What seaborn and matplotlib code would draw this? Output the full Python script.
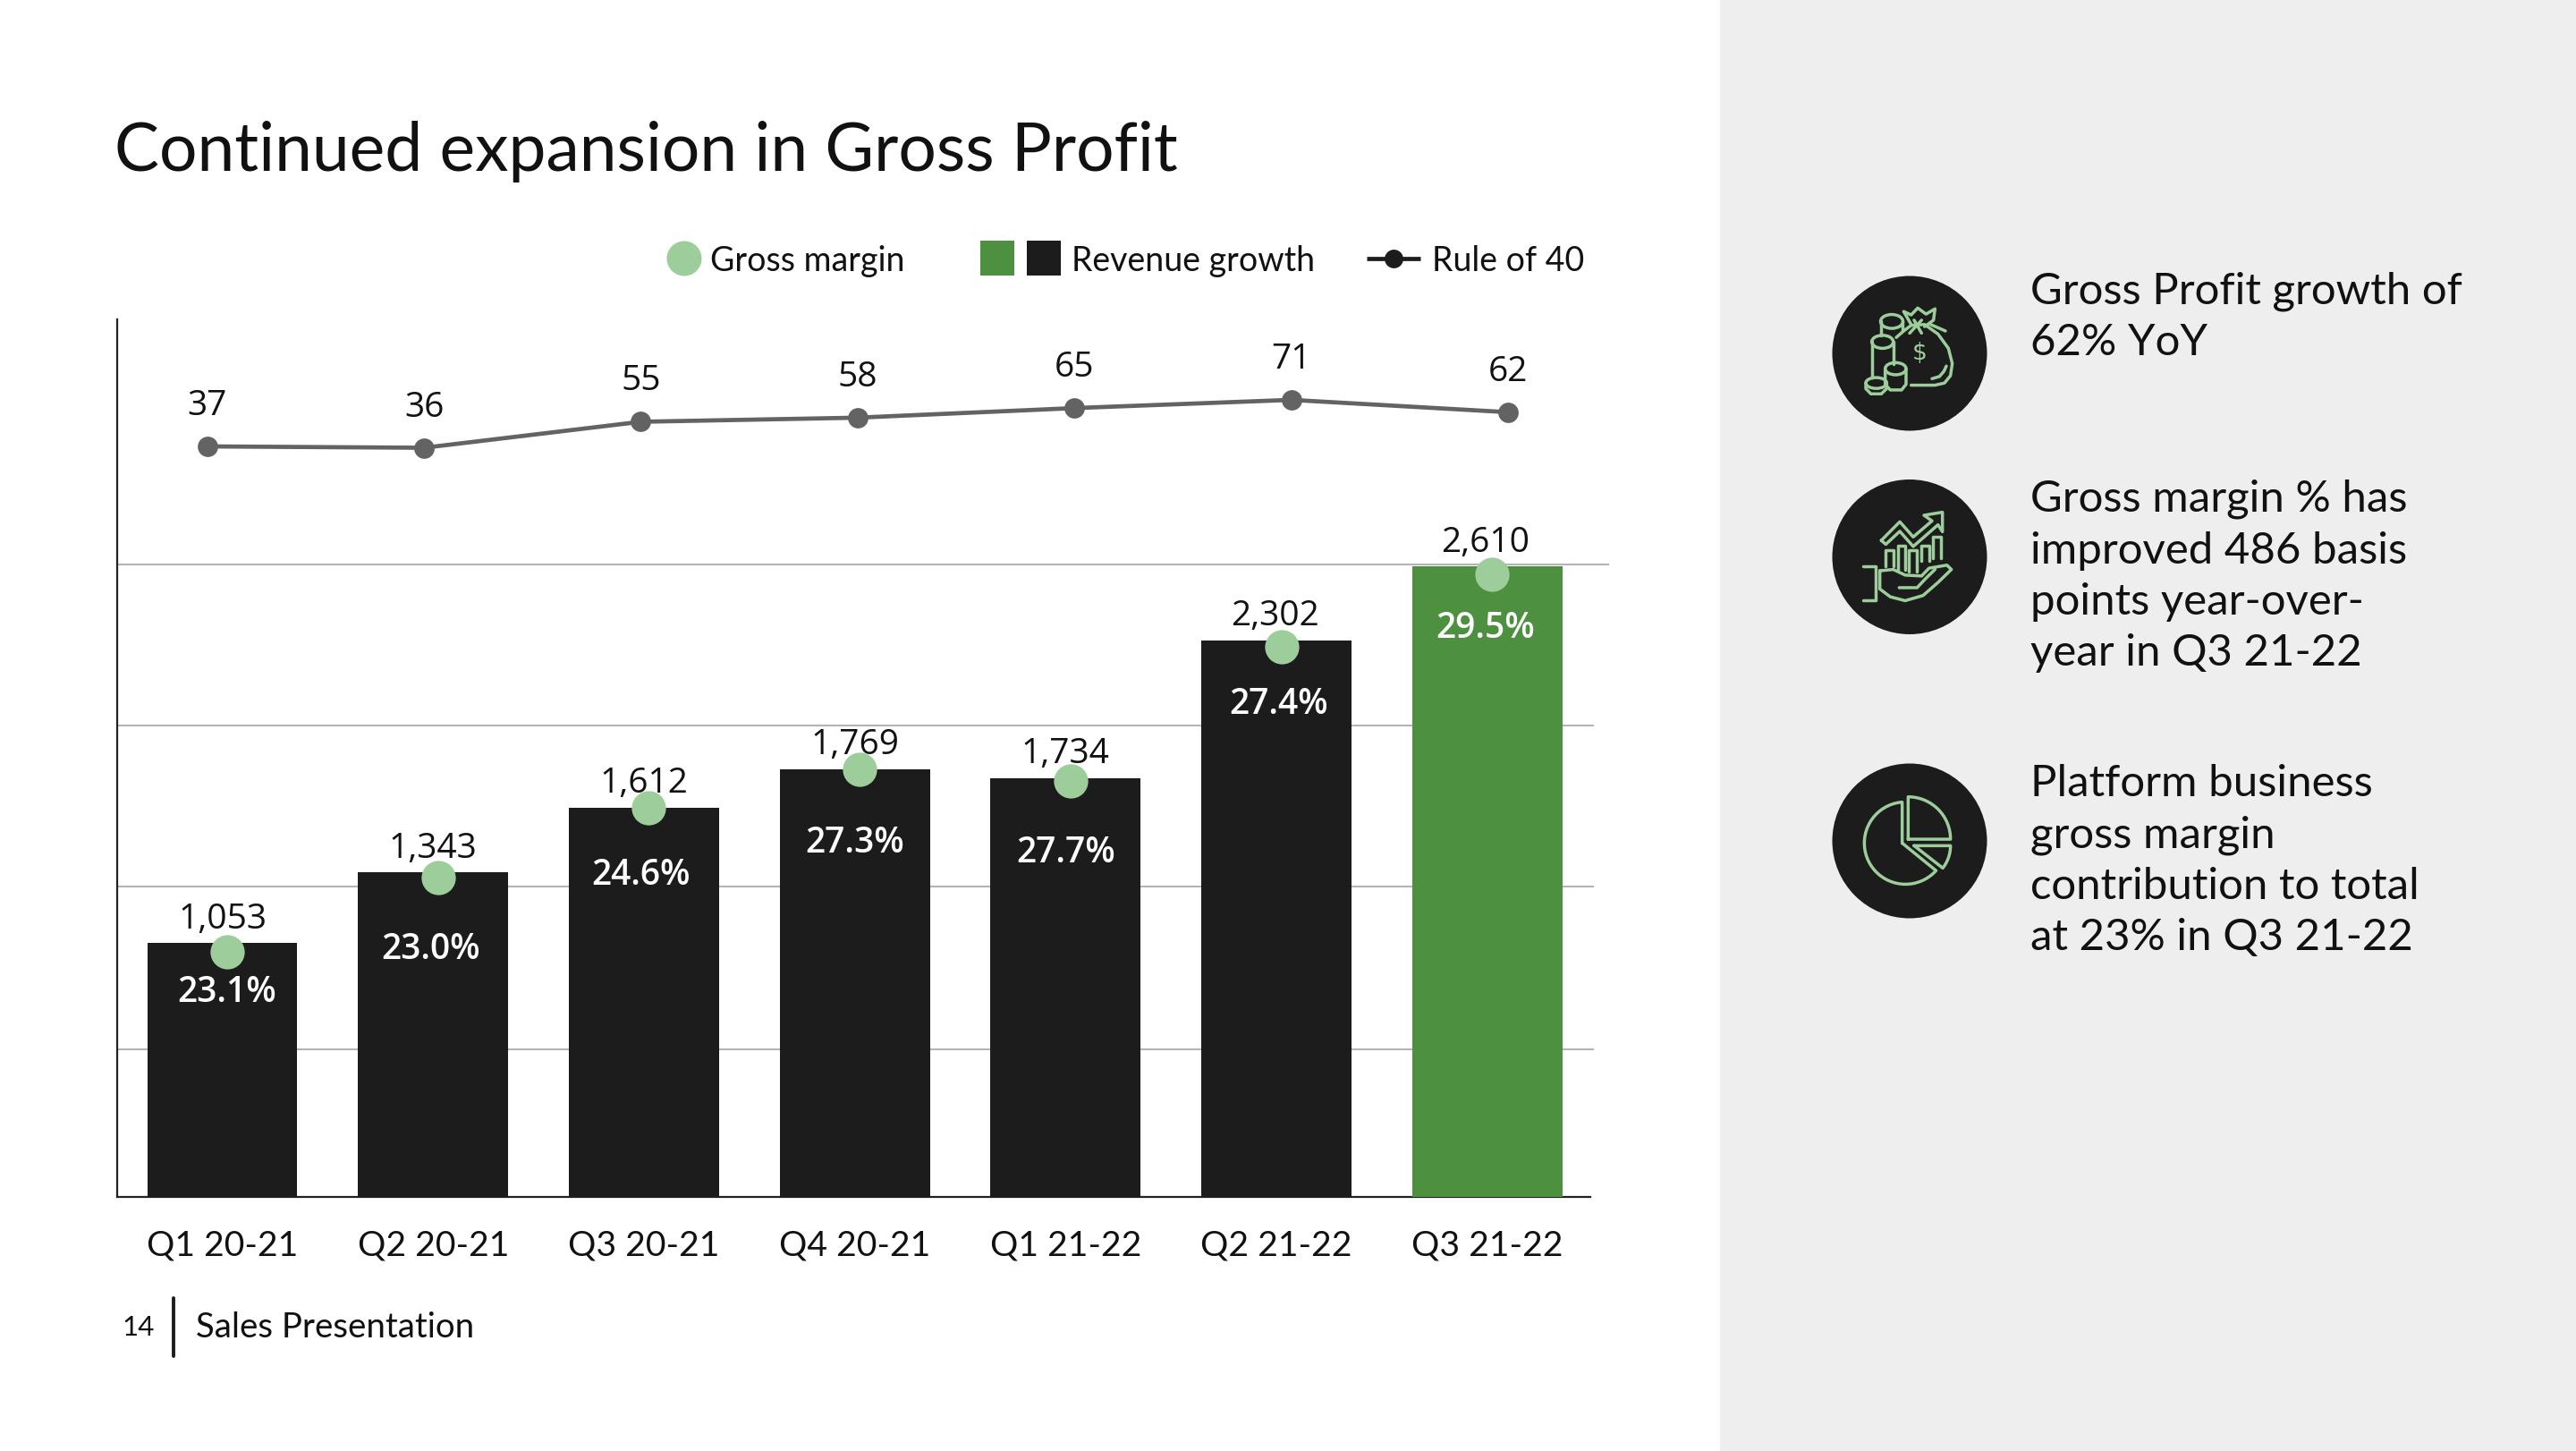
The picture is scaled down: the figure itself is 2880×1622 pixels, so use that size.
import numpy as np
import pandas as pd
import seaborn as sns
import matplotlib
matplotlib.use("Agg")
import matplotlib.pyplot as plt
from matplotlib.patches import Circle, Rectangle, Ellipse

# ---------- data ----------
quarters = ["Q1 20-21", "Q2 20-21", "Q3 20-21", "Q4 20-21", "Q1 21-22", "Q2 21-22", "Q3 21-22"]
revenue = [1053, 1343, 1612, 1769, 1734, 2302, 2610]
gross_margin = [23.1, 23.0, 24.6, 27.3, 27.7, 27.4, 29.5]
margin_marker_level = [1013, 1323, 1612, 1769, 1720, 2275, 2576]
rule_of_40 = [37, 36, 55, 58, 65, 71, 62]
grid_levels = [612, 1285, 1951, 2617]

title = "Continued expansion in Gross Profit"
side_notes = [
    "Gross Profit growth of\n62% YoY",
    "Gross margin % has\nimproved 486 basis\npoints year-over-\nyear in Q3 21-22",
    "Platform business\ngross margin\ncontribution to total\nat 23% in Q3 21-22",
]
legend_labels = ["Gross margin", "Revenue growth", "Rule of 40"]

# ---------- style ----------
BLACK, GREEN, LIGHT, GREY, RULE = "#1c1c1c", "#4d9040", "#9ccd9b", "#636363", "#b4b4b4"
PANEL = "#eeeeee"
W, H = 2880, 1622
sns.set_theme(style="white")
plt.rcParams["font.family"] = ["Lato", "DejaVu Sans"]
NUM = "Open Sans"

fig = plt.figure(figsize=(W / 200, H / 200), dpi=200, facecolor="white")

# full-figure layer in pixel coordinates for slide furniture
bg = fig.add_axes([0, 0, 1, 1], zorder=0)
bg.set_xlim(0, W); bg.set_ylim(H, 0); bg.axis("off")
bg.add_patch(Rectangle((1923, 0), W - 1923, H, color=PANEL, lw=0))

L, R, T, B = 130.5, 1798.5, 356.5, 1338.0
rect = [L / W, 1 - B / H, (R - L) / W, (B - T) / H]
STEP, C0 = 235.7, 248.5
PX_PER_REV = 705.0 / 2610
df = pd.DataFrame({"quarter": quarters, "revenue": revenue, "idx": range(len(quarters)),
                   "rule": rule_of_40, "marker": margin_marker_level})

# ---------- bars ----------
ax = fig.add_axes(rect, zorder=1, facecolor="none")
sns.barplot(data=df, x="quarter", y="revenue", hue="quarter", ax=ax, width=0.712, saturation=1,
            palette=[BLACK] * 6 + [GREEN], legend=False, zorder=3, linewidth=0, edgecolor="none")
ax.set_xlim((L - C0) / STEP, (R - C0) / STEP)
ax.set_ylim(0, (B - T) / PX_PER_REV)
ax.set_xlabel(""); ax.set_ylabel(""); ax.set_yticks([])
ax.tick_params(axis="x", length=0, pad=13, labelsize=14.1, labelcolor="#111111")
for s in ("top", "right"):
    ax.spines[s].set_visible(False)
for s in ("left", "bottom"):
    ax.spines[s].set_color("#222222"); ax.spines[s].set_linewidth(0.8)
ax.spines["bottom"].set_bounds((L - C0) / STEP, (1778 - C0) / STEP)
for i, g in enumerate(grid_levels):
    xmax = R if i == len(grid_levels) - 1 else 1782
    ax.hlines(g, (L - C0) / STEP, (xmax - C0) / STEP, color=RULE, lw=0.75, zorder=1)

rev_dx = [0, 0, 0, 0, 0, -2, -2]
rev_dy = [26, 26, 27, 27, 27, 27, 26]
pct_dx = [5, -3, -3, 0, 0, 3, -2]
pct_dy = [56, 87, 76, 83, 84, 72, 70]
for i, (v, m) in enumerate(zip(revenue, gross_margin)):
    ax.annotate(f"{v:,}", (i, v), xytext=(rev_dx[i] * 0.36, rev_dy[i] * 0.36), textcoords="offset points",
                ha="center", va="center", fontsize=14, family=NUM, color="#111111")
    ax.annotate(f"{m:.1f}%", (i, v), xytext=(pct_dx[i] * 0.36, -pct_dy[i] * 0.36), textcoords="offset points",
                ha="center", va="center", fontsize=14, family=NUM, fontweight="semibold", color="white", zorder=5)

# ---------- gross-margin markers (sit slightly right of the bar centre) ----------
ax3 = fig.add_axes(rect, zorder=2, facecolor="none")
sns.scatterplot(data=df, x="idx", y="marker", ax=ax3, color=LIGHT, s=190, linewidth=0, zorder=5, legend=False)
ax3.set_xlim((L - C0 - 5.5) / STEP, (R - C0 - 5.5) / STEP)
ax3.set_ylim(ax.get_ylim())
ax3.axis("off")

# ---------- rule of 40 line ----------
ax2 = fig.add_axes(rect, zorder=2, facecolor="none")
sns.lineplot(data=df, x="idx", y="rule", ax=ax2, color=GREY, lw=1.7, marker="o", markersize=8.2,
             markeredgewidth=0, legend=False)
STEP2 = (1686 - 231.7) / 6
PX_PER_RULE = 52.0 / 34
ax2.set_xlim((L - 231.7) / STEP2, (R - 231.7) / STEP2)
ax2.set_ylim(37 - (B - 499) / PX_PER_RULE, 37 + (499 - T) / PX_PER_RULE)
ax2.axis("off")
for i, v in enumerate(rule_of_40):
    ax2.annotate(str(v), (i, v), xytext=(0, 16.2), textcoords="offset points", ha="center", va="center",
                 fontsize=14, family=NUM, color="#111111")

# ---------- title, legend, footer ----------
bg.text(128, 170, title, fontsize=27, color="#111111", va="center", ha="left")

bg.add_patch(Circle((765, 289), 19.5, color=LIGHT, lw=0))
bg.add_patch(Rectangle((1095.5, 269), 38, 39, color=GREEN, lw=0))
bg.add_patch(Rectangle((1148, 269), 38, 39, color=BLACK, lw=0))
bg.plot([1528, 1588], [289, 289], color=BLACK, lw=1.7, solid_capstyle="butt")
bg.plot([1558], [289], "o", color=BLACK, ms=7.5, mew=0)
for x, lab in zip([794, 1198, 1601], legend_labels):
    bg.text(x, 292, lab, fontsize=13.5, color="#111111", va="center", ha="left")

bg.text(136, 1484, "14", fontsize=11.3, color="#111111", va="center", ha="left")
bg.plot([194, 194], [1451, 1516], color=BLACK, lw=1.4)
bg.text(219, 1484, "Sales Presentation", fontsize=13.8, color="#111111", va="center", ha="left")

# ---------- side notes ----------
for y, note in zip([354, 644, 962], side_notes):
    bg.text(2270, y, note, fontsize=17.7, color="#111111", va="center", ha="left", linespacing=1.37)

# ---------- icons (sketched in zoom units of the panel) ----------
for cy in (395, 622.5, 940):
    bg.add_patch(Circle((2135, cy), 86.5, color=BLACK, lw=0))

def zx(v): return 2020 + np.asarray(v, float) / 3
def zy(v): return 290 + np.asarray(v, float) / 2.063
def pl(pts):
    p = np.array(pts, float)
    bg.plot(zx(p[:, 0]), zy(p[:, 1]), color=LIGHT, lw=1.25, solid_joinstyle="round", solid_capstyle="round")
def arc(cx, cy, r, a0, a1, n=40):
    t = np.radians(np.linspace(a0, a1, n))
    return np.c_[cx + r * np.cos(t), cy - r * 2.063 / 3 * np.sin(t)]
def ell(cx, cy, w, h):
    bg.add_patch(Ellipse((zx(cx), zy(cy)), w / 3, h / 2.063, fill=False, ec=LIGHT, lw=1.25))

# coins and money bag
ell(285, 143, 75, 32); pl([(248, 143), (248, 176)]); pl([(322, 143), (322, 165)])
ell(254, 190, 72, 30); pl([(218, 190), (218, 272)]); pl([(290, 190), (290, 242)])
ell(298, 252, 70, 28); pl([(263, 252), (263, 288), (280, 301), (318, 301), (333, 288), (333, 252)])
ell(233, 285, 70, 25); pl([(198, 285), (198, 298), (215, 310), (250, 310), (268, 298), (268, 285)])
pl([(300, 180), (325, 165), (350, 152), (395, 150), (440, 172), (475, 205), (488, 240), (482, 268), (462, 285), (430, 290), (350, 290)])
pl([(350, 150), (325, 120), (350, 128), (372, 112), (400, 126), (430, 114), (425, 140), (395, 155)])
pl([(345, 170), (385, 140)]); pl([(360, 140), (385, 170)]); pl([(415, 150), (465, 165)])
pl([(420, 275), (445, 270), (460, 258), (468, 246)])
bg.text(zx(378), zy(216), "$", color=LIGHT, fontsize=9.5, ha="center", va="center", family="DejaVu Sans")

# hand, bars and arrow
pl([(250, 648), (312, 605), (357, 640), (420, 603), (393, 590), (455, 583), (455, 628), (440, 612), (357, 662), (312, 627), (265, 657), (250, 648)])
for a, b, t, e in [(265, 292, 670, 708), (305, 330, 660, 715), (343, 370, 670, 720), (383, 410, 660, 695), (423, 450, 640, 690)]:
    pl([(a, e), (a, t), (b, t), (b, e)])
pl([(190, 708), (232, 708), (232, 785), (190, 785)])
pl([(245, 718), (290, 715), (330, 728), (385, 730), (410, 712), (470, 705), (485, 715), (440, 745), (390, 775), (330, 787), (280, 778), (245, 760), (245, 718)])
pl([(310, 757), (370, 757), (400, 735), (430, 715)])

# pie chart
main = arc(331, 1346, 138, 95, 318)
pl(np.vstack([[(320, 1346), (320, 1252)], main, [(320, 1346)]]))
pl(np.vstack([[(340, 1337), (340, 1243)], arc(340, 1337, 142, 90, 0), [(340, 1337)]]))
pl(np.vstack([[(360, 1352), (482, 1352)], arc(360, 1352, 122, 0, -38), [(360, 1352)]]))

fig.savefig("out.png", dpi=200, facecolor="white")
